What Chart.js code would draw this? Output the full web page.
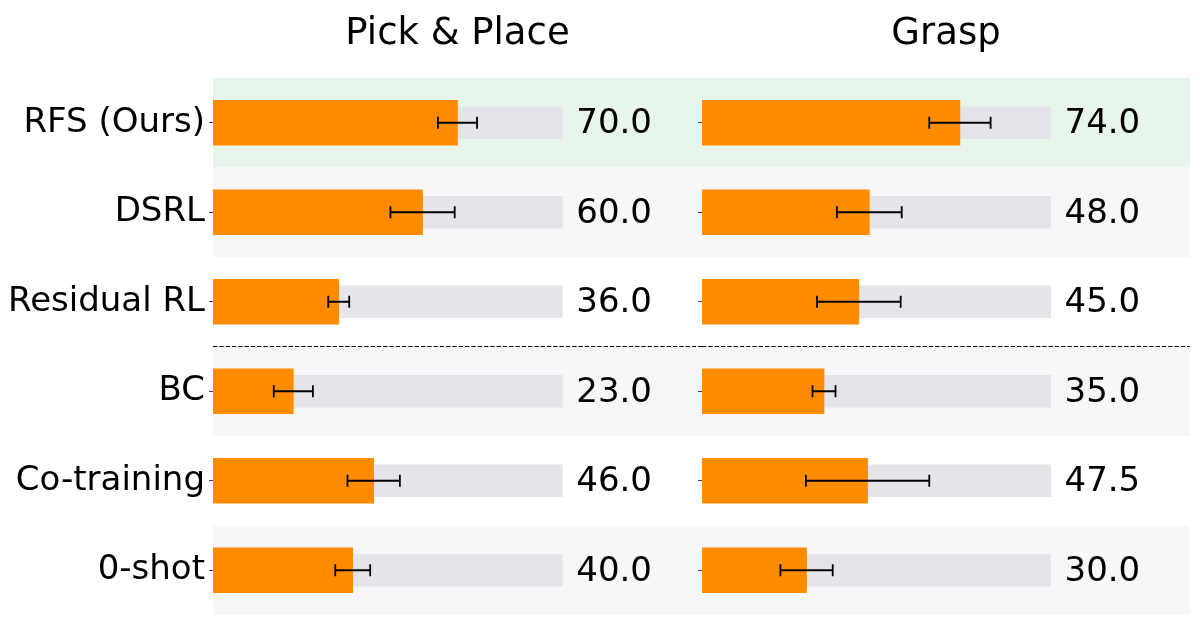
<!DOCTYPE html>
<html>
<head>
<meta charset="utf-8">
<script src="https://cdn.jsdelivr.net/npm/chart.js@4.4.1/dist/chart.umd.min.js"></script>
<style>
  html, body { margin: 0; padding: 0; background: #ffffff; }
  #wrap { position: relative; width: 1200px; height: 642px; overflow: hidden; }
  canvas { position: absolute; top: 0; }
  #left { left: 0; }
  #right { left: 690px; }
</style>
</head>
<body>
<div id="wrap">
  <canvas id="left" width="702" height="642"></canvas>
  <canvas id="right" width="510" height="642"></canvas>
</div>
<script>
// ---- data ----
const categories = ['RFS (Ours)', 'DSRL', 'Residual RL', 'BC', 'Co-training', '0-shot'];
const panelTitles = ['Pick & Place', 'Grasp'];
const pickPlaceValues = [70.0, 60.0, 36.0, 23.0, 46.0, 40.0];
const pickPlaceErrors = [5.6, 9.2, 3.0, 5.6, 7.5, 5.0];
const graspValues = [74.0, 48.0, 45.0, 35.0, 47.5, 30.0];
const graspErrors = [8.8, 9.3, 12.0, 3.3, 17.7, 7.5];
const fullScore = [100, 100, 100, 100, 100, 100];
const xMax = 140;
const labelAt = 104.0;           // x-value where the score text starts
const separatorAfter = 2;        // dashed line after this row index

// ---- styling ----
const FONT = 'DejaVu Sans';
const bandColors = ['#e8f5ea', '#f7f7f9', null, '#f7f7f9', null, '#f7f7f9'];
Chart.defaults.font.family = FONT;
Chart.defaults.color = '#000';

function panelPlugin(title, values, errors) {
  return {
    id: 'panelDecor',
    beforeDraw(chart) {
      const ctx = chart.ctx, ca = chart.chartArea, y = chart.scales.y;
      const step = (y.getPixelForValue(1) - y.getPixelForValue(0));
      ctx.save();
      categories.forEach((c, i) => {
        if (!bandColors[i]) return;
        const cy = y.getPixelForValue(i);
        ctx.fillStyle = bandColors[i];
        ctx.fillRect(ca.left, cy - step / 2, ca.right - ca.left, step);
      });
      // title
      ctx.fillStyle = '#000';
      ctx.font = '37px "' + FONT + '"';
      ctx.textAlign = 'center';
      ctx.textBaseline = 'alphabetic';
      ctx.fillText(title, (ca.left + ca.right) / 2, 43.5);
      ctx.restore();
    },
    afterDatasetsDraw(chart) {
      const ctx = chart.ctx, ca = chart.chartArea, x = chart.scales.x, y = chart.scales.y;
      const step = (y.getPixelForValue(1) - y.getPixelForValue(0));
      ctx.save();
      // error bars
      ctx.strokeStyle = '#000';
      ctx.lineWidth = 1.8;
      values.forEach((v, i) => {
        const cy = y.getPixelForValue(i);
        const x0 = x.getPixelForValue(v - errors[i]);
        const x1 = x.getPixelForValue(v + errors[i]);
        ctx.beginPath();
        ctx.moveTo(x0, cy); ctx.lineTo(x1, cy);
        ctx.moveTo(x0, cy - 6); ctx.lineTo(x0, cy + 6);
        ctx.moveTo(x1, cy - 6); ctx.lineTo(x1, cy + 6);
        ctx.stroke();
      });
      // value text
      ctx.fillStyle = '#000';
      ctx.font = '34px "' + FONT + '"';
      ctx.textAlign = 'left';
      ctx.textBaseline = 'alphabetic';
      values.forEach((v, i) => {
        const cy = y.getPixelForValue(i);
        ctx.fillText(v.toFixed(1), x.getPixelForValue(labelAt), cy + 10.5);
      });
      // dashed separator
      const sy = y.getPixelForValue(separatorAfter) + step / 2;
      ctx.setLineDash([4.4, 1.9]);
      ctx.lineWidth = 1.2;
      ctx.beginPath();
      ctx.moveTo(ca.left, sy); ctx.lineTo(ca.right, sy);
      ctx.stroke();
      ctx.restore();
    }
  };
}

function makePanel(id, title, values, errors, axisWidth, showLabels, padRight) {
  return new Chart(document.getElementById(id), {
    type: 'bar',
    data: {
      labels: categories,
      datasets: [
        {
          data: values,
          backgroundColor: '#ff8c00',
          barThickness: 45,
          grouped: false,
          order: 0
        },
        {
          data: fullScore,
          backgroundColor: '#e4e5ea',
          barThickness: 32,
          grouped: false,
          order: 1
        }
      ]
    },
    options: {
      indexAxis: 'y',
      responsive: false,
      animation: false,
      devicePixelRatio: 1,
      layout: { padding: { top: 78, bottom: 27, left: 0, right: padRight } },
      plugins: { legend: { display: false }, tooltip: { enabled: false }, title: { display: false } },
      scales: {
        x: { display: false, min: 0, max: xMax },
        y: {
          type: 'category',
          offset: true,
          border: { display: false },
          grid: { offset: false, drawOnChartArea: false, drawTicks: true, tickLength: 4, color: '#444', lineWidth: 1 },
          ticks: {
            padding: 4,
            font: { size: 34, family: FONT },
            color: '#000',
            callback: function (val, idx) { return showLabels ? categories[idx] : ''; }
          },
          afterFit: function (scale) { scale.width = axisWidth; }
        }
      }
    },
    plugins: [panelPlugin(title, values, errors)]
  });
}

makePanel('left', panelTitles[0], pickPlaceValues, pickPlaceErrors, 213, true, 0);
makePanel('right', panelTitles[1], graspValues, graspErrors, 12, false, 10);
</script>
</body>
</html>
